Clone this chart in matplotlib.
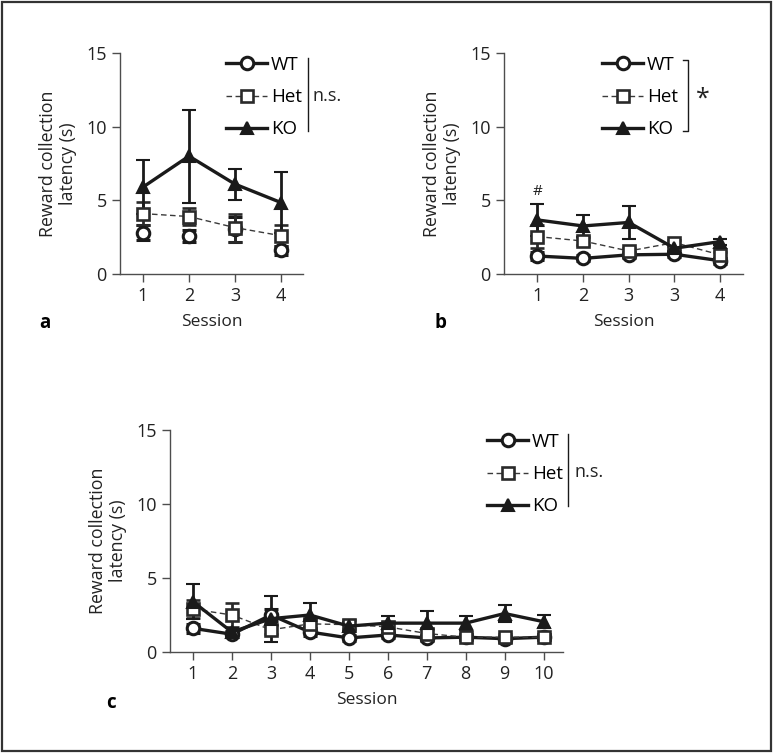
import matplotlib
matplotlib.use('Agg')
import matplotlib.pyplot as plt
from matplotlib.lines import Line2D
from matplotlib.patches import Rectangle

plt.rcParams['font.family'] = ['Open Sans', 'DejaVu Sans']
plt.rcParams['font.size'] = 12

# panel a
sessions_a = [1, 2, 3, 4]
labels_a = ['1', '2', '3', '4']
wt_a = [2.8, 2.6, 3.05, 1.6]
wt_a_err = [0.5, 0.4, 0.85, 0.3]
het_a = [4.1, 3.9, 3.15, 2.6]
het_a_err = [0.8, 0.6, 0.95, 0.7]
ko_a = [5.9, 8.0, 6.1, 4.85]
ko_a_err = [1.85, 3.15, 1.05, 2.05]

# panel b
sessions_b = [1, 2, 3, 4, 5]
labels_b = ['1', '2', '3', '3', '4']
wt_b = [1.22, 1.06, 1.3, 1.34, 0.9]
wt_b_err = [0.3, 0.2, 0.2, 0.2, 0.2]
het_b = [2.54, 2.24, 1.56, 2.13, 1.3]
het_b_err = [0.8, 0.3, 0.2, 0.2, 0.2]
ko_b = [3.67, 3.26, 3.5, 1.75, 2.2]
ko_b_err = [1.1, 0.75, 1.1, 0.2, 0.2]

# panel c
sessions_c = [1, 2, 3, 4, 5, 6, 7, 8, 9, 10]
labels_c = ['1', '2', '3', '4', '5', '6', '7', '8', '9', '10']
wt_c = [1.6, 1.2, 2.5, 1.35, 0.95, 1.15, 0.95, 1.0, 0.9, 1.0]
wt_c_err = [0.3, 0.2, 0.4, 0.3, 0.2, 0.2, 0.2, 0.2, 0.2, 0.2]
het_c = [2.9, 2.5, 1.5, 1.9, 1.85, 1.7, 1.25, 1.0, 1.0, 1.0]
het_c_err = [0.6, 0.8, 0.3, 0.3, 0.3, 0.3, 0.3, 0.2, 0.2, 0.2]
ko_c = [3.4, 1.35, 2.25, 2.5, 1.75, 1.95, 1.95, 1.95, 2.6, 2.05]
ko_c_err = [1.2, 0.3, 1.55, 0.8, 0.3, 0.45, 0.85, 0.45, 0.6, 0.45]

groups = ['WT', 'Het', 'KO']

W, H = 773, 753
fig = plt.figure(figsize=(W / 100, H / 100), dpi=100)
fig.patches.append(Rectangle((0.002, 0.002), 0.995, 0.995, transform=fig.transFigure,
                             fill=False, edgecolor='#333333', lw=1.6))

dark = '#1a1a1a'
spine = '#4d4d4d'
txt = '#222222'
styles = {
    'WT': dict(color=dark, lw=2.4, ls='-', marker='o', mfc='white', mec=dark, ms=9, mew=2.2),
    'Het': dict(color='#3a3a3a', lw=1.0, ls=(0, (4, 2.5)), marker='s', mfc='white', mec='#2a2a2a', ms=8.5, mew=1.9),
    'KO': dict(color=dark, lw=2.4, ls='-', marker='^', mfc=dark, mec=dark, ms=9, mew=1.5),
}


def px(x, y):
    return x / W, 1 - y / H


def panel(left, top, right, bottom, xs, labels, series, xlim, wt_line=True):
    l, t = px(left, top)
    r, b = px(right, bottom)
    ax = fig.add_axes([l, b, r - l, t - b])
    for name, (vals, errs) in zip(groups, series):
        st = dict(styles[name])
        if name == 'WT' and not wt_line:
            st['ls'] = 'none'
        ax.errorbar(xs, vals, yerr=errs, capsize=4.8, elinewidth=2.0, capthick=2.0,
                    ecolor=st['mec'], clip_on=False, zorder=3, **st)
    ax.set_xlim(*xlim)
    ax.set_ylim(0, 15)
    ax.set_yticks([0, 5, 10, 15])
    ax.set_xticks(xs)
    ax.set_xticklabels(labels)
    for s in ['top', 'right']:
        ax.spines[s].set_visible(False)
    for s in ['left', 'bottom']:
        ax.spines[s].set_color(spine)
        ax.spines[s].set_linewidth(1.0)
    ax.tick_params(direction='out', length=5.5, width=1.0, color=spine, labelsize=13,
                   labelcolor=txt, pad=4)
    ax.set_xlabel('Session', fontsize=12.5, color=txt, labelpad=6)
    ax.set_ylabel('Reward collection\nlatency (s)', fontsize=12.8, color=txt,
                  labelpad=7, linespacing=1.1)
    return ax


def legend(ax, x, y):
    handles = [Line2D([], [], **styles[g]) for g in groups]
    fx, fy = px(x, y)
    ax.legend(handles, groups, loc='upper left', bbox_to_anchor=(fx, fy),
              bbox_transform=fig.transFigure, frameon=False, borderpad=0,
              borderaxespad=0, handlelength=2.2, handletextpad=0.2,
              labelspacing=0.75, fontsize=13.5)


ax_a = panel(120, 53, 303, 274, sessions_a, labels_a,
             [(wt_a, wt_a_err), (het_a, het_a_err), (ko_a, ko_a_err)], (0.5, 4.48),
             wt_line=False)
legend(ax_a, 226, 56)
fig.add_artist(Line2D([px(308, 0)[0]] * 2, [px(0, 58)[1], px(0, 131)[1]], color=dark, lw=1.0))
fig.text(*px(313, 96), 'n.s.', fontsize=13, va='center', ha='left', color=txt)
fig.text(*px(45, 323), 'a', fontsize=13.5, fontweight='bold', ha='center', va='center')

ax_b = panel(504, 53, 743, 274, sessions_b, labels_b,
             [(wt_b, wt_b_err), (het_b, het_b_err), (ko_b, ko_b_err)], (0.27, 5.5))
legend(ax_b, 602, 56)
xb = px(688, 0)[0]
xb0 = px(683, 0)[0]
yb0, yb1 = px(0, 60)[1], px(0, 131)[1]
fig.add_artist(Line2D([xb0, xb, xb, xb0], [yb0, yb0, yb1, yb1], color=dark, lw=1.0))
fig.text(*px(703, 99), '*', fontsize=18, va='center', ha='center', color=txt)
ax_b.text(1, 5.6, '#', fontsize=11, ha='center', va='center', color=txt)
fig.text(*px(440, 323), 'b', fontsize=13.5, fontweight='bold', ha='center', va='center')

ax_c = panel(170, 430, 563, 652, sessions_c, labels_c,
             [(wt_c, wt_c_err), (het_c, het_c_err), (ko_c, ko_c_err)], (0.41, 10.5))
legend(ax_c, 487, 433)
fig.add_artist(Line2D([px(568, 0)[0]] * 2, [px(0, 434)[1], px(0, 506)[1]], color=dark, lw=1.0))
fig.text(*px(574, 472), 'n.s.', fontsize=13, va='center', ha='left', color=txt)
fig.text(*px(111, 703), 'c', fontsize=13.5, fontweight='bold', ha='center', va='center')

fig.savefig('out.png', dpi=100)
